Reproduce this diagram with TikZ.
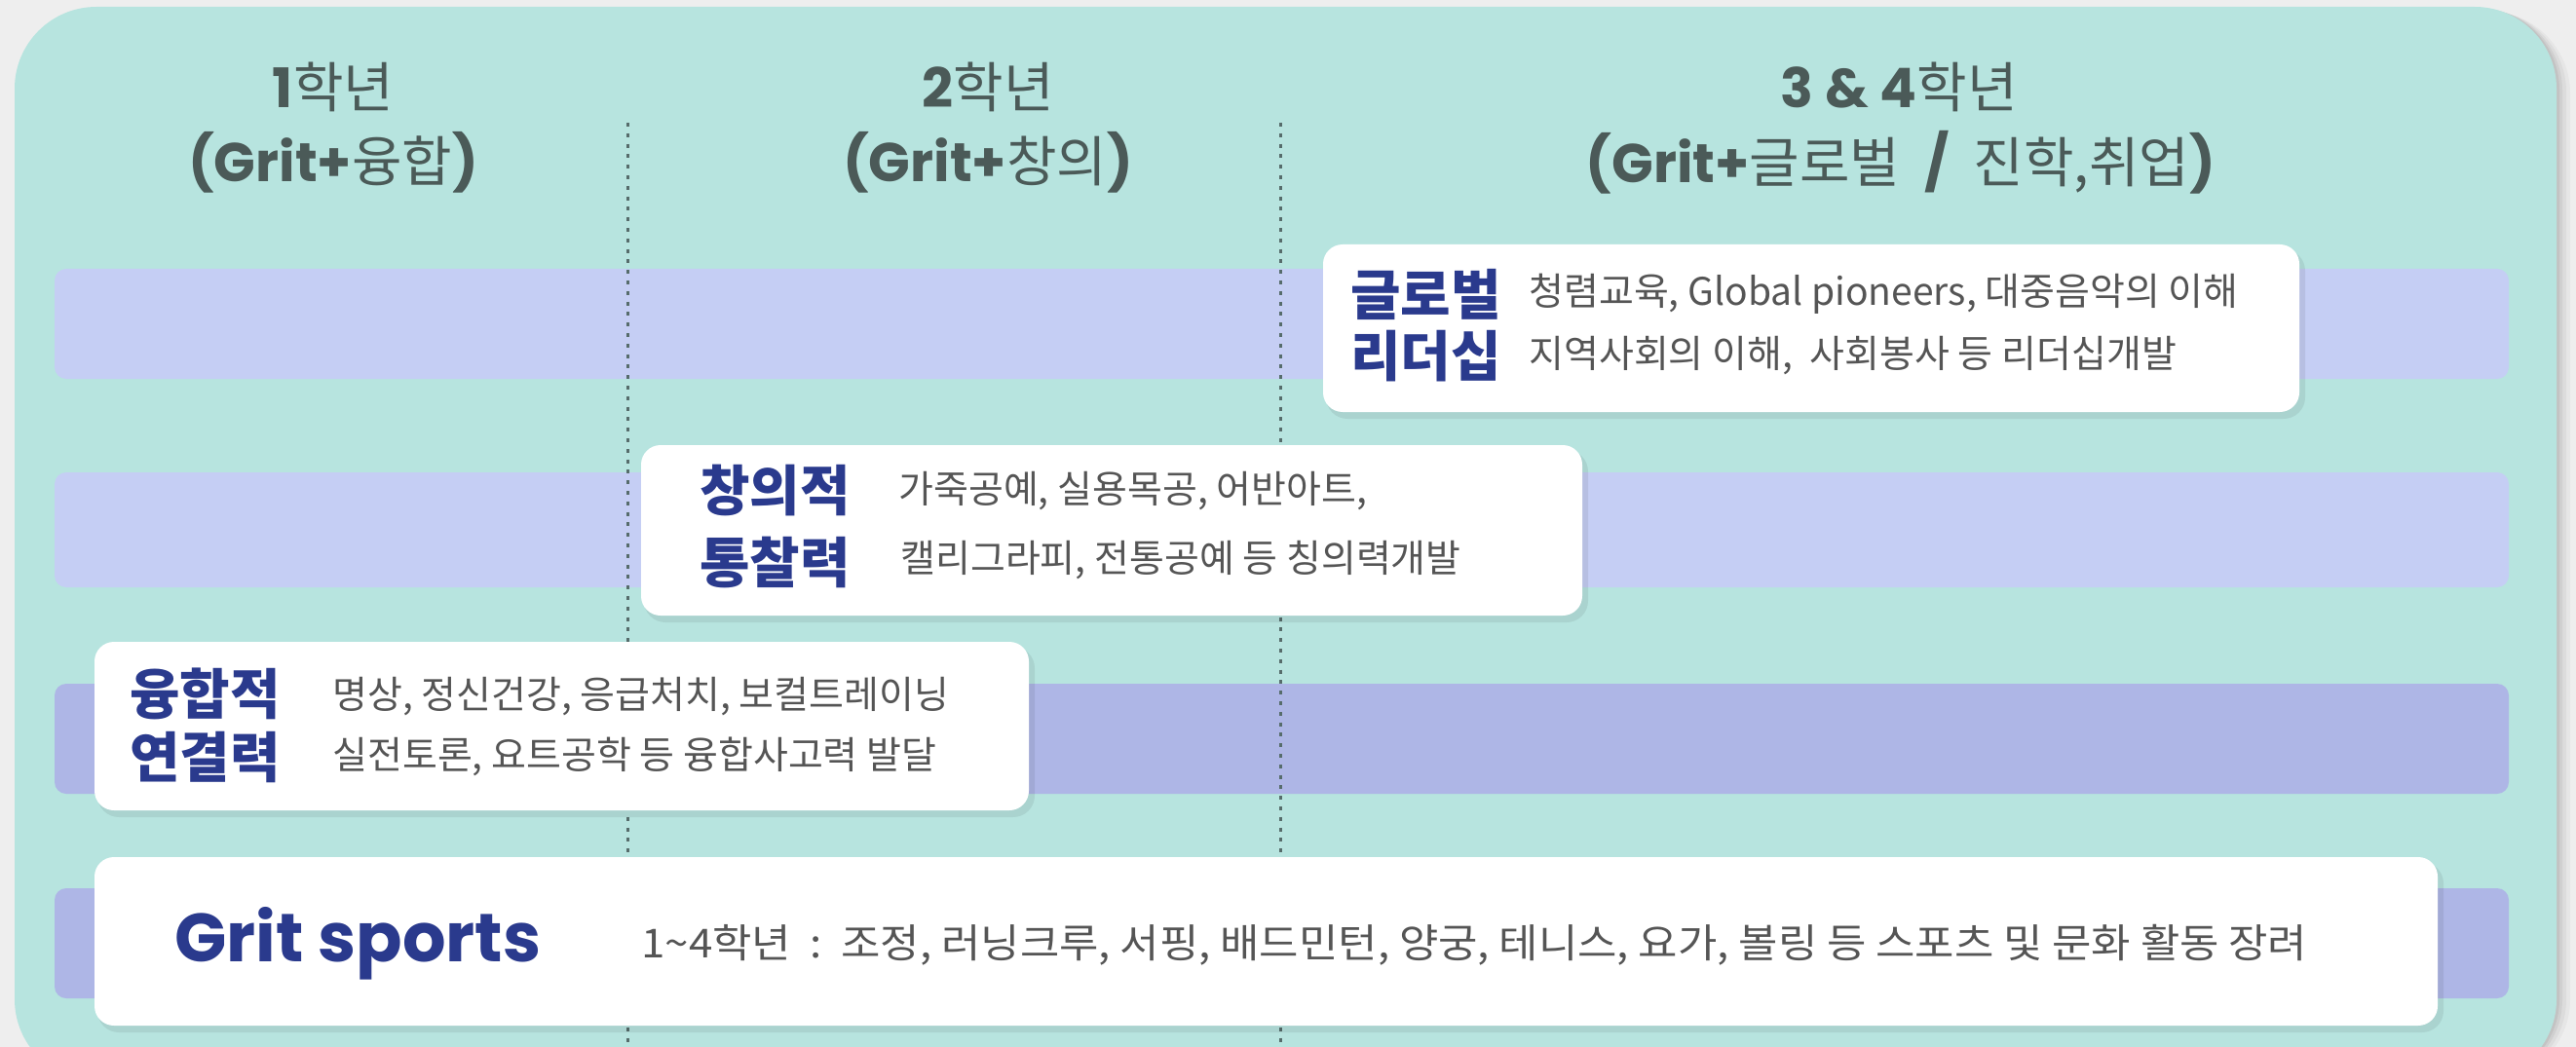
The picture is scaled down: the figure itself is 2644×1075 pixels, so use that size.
\documentclass[tikz,border=0pt]{standalone}
\usepackage{fontspec}
\newfontfamily\kr{Noto Sans CJK KR}
\newfontfamily\krwide{Noto Sans CJK KR}[FakeStretch=1.07]
\newfontfamily\pop{Poppins}
\definecolor{bg}{HTML}{EEEEEE}
\definecolor{panel}{HTML}{B7E4DF}
\definecolor{bandA}{HTML}{C5CEF4}
\definecolor{bandB}{HTML}{AEB6E6}
\definecolor{navy}{HTML}{2A3A8D}
\definecolor{head}{HTML}{4B5A58}
\definecolor{desc}{HTML}{555555}
\definecolor{divider}{HTML}{566C6B}
\tikzset{
  band/.style={rounded corners=6pt},
  card/.style={fill=white, rounded corners=10pt},
  cardshadow/.style={fill=black, fill opacity=0.07, rounded corners=11pt},
  titletxt/.style={text=navy, font=\kr\bfseries\fontsize{28}{33}\selectfont, anchor=west, inner sep=0},
  desctxt/.style={text=desc, font=\kr\fontsize{19.5}{23}\selectfont, anchor=west, inner sep=0},
  divline/.style={draw=divider, line width=1.5pt, dash pattern=on 2pt off 3.4pt},
  headtxt/.style={inner sep=0, text=head},
}
\newcommand{\hb}[1]{{\pop\bfseries\fontsize{28}{34}\selectfont #1}}
\newcommand{\hk}[1]{{\kr\fontsize{28}{34}\selectfont #1}}
\begin{document}
\begin{tikzpicture}[x=0.5pt,y=-0.5pt]
\useasboundingbox (0,0) rectangle (2644,1075);
\clip (0,0) rectangle (2644,1075);
\fill[bg] (0,0) rectangle (2644,1075);
% panel shadow
\foreach \o/\a in {14/0.03,10/0.04,6/0.05,3/0.06}{
  \fill[black, fill opacity=\a, rounded corners=42pt] (15+\o,7+\o/3) rectangle (2624+\o,1110);
}
\fill[panel, rounded corners=42pt] (15,7) rectangle (2624,1110);
% bands
\fill[bandA, band] (56,276) rectangle (2575,389);
\fill[bandA, band] (56,485) rectangle (2575,603);
\fill[bandB, band] (56,702) rectangle (2575,815);
\fill[bandB, band] (56,912) rectangle (2575,1025);
% dividers
\coordinate (d1t) at (644,126);
\coordinate (d1b) at (644,1075);
\coordinate (d2t) at (1314,126);
\coordinate (d2b) at (1314,1075);
\draw[divline] (d1t) -- (d1b);
\draw[divline] (d2t) -- (d2b);
% headers
\node[headtxt] (h1a) at (342,89) {\hb{1}\hk{학년}};
\node[headtxt] (h1b) at (342,167) {\hb{(Grit+}\hk{융합}\hb{)}};
\node[headtxt] (h2a) at (1014,89) {\hb{2}\hk{학년}};
\node[headtxt] (h2b) at (1014,167) {\hb{(Grit+}\hk{창의}\hb{)}};
\node[headtxt] (h3a) at (1949,89) {\hb{3 \& 4}\hk{학년}};
\node[headtxt] (h3b) at (1951,167) {\hb{(Grit+}\hk{글로벌\ \ }\hb{/}\hk{\ \ 진학,취업}\hb{)}};
% card shadows
\fill[cardshadow] (1361,256) rectangle (2366,430);
\fill[cardshadow] (661,462) rectangle (1630,639);
\fill[cardshadow] (100,664) rectangle (1062,839);
\fill[cardshadow] (100,885) rectangle (2508,1060);
% cards
\fill[card] (1358,251) rectangle (2360,423);
\fill[card] (658,457) rectangle (1624,632);
\fill[card] (97,659) rectangle (1056,832);
\fill[card] (97,880) rectangle (2502,1053);
% card A
\node[titletxt] (tA1) at (1386,302) {글로벌};
\node[titletxt] (tA2) at (1386,366) {리더십};
\node[desctxt] (dA1) at (1569,302) {청렴교육, Global pioneers, 대중음악의 이해};
\node[desctxt] (dA2) at (1569,365) {지역사회의 이해,\ \ 사회봉사 등 리더십개발};
% card B
\node[titletxt] (tB1) at (718,504) {창의적};
\node[titletxt] (tB2) at (718,577) {통찰력};
\node[desctxt] (dB1) at (922,504) {가죽공예, 실용목공, 어반아트,};
\node[desctxt] (dB2) at (924,575) {캘리그라피, 전통공예 등 칭의력개발};
% card C
\node[titletxt] (tC1) at (133,712) {융합적};
\node[titletxt] (tC2) at (133,778) {연결력};
\node[desctxt] (dC1) at (341,715) {명상, 정신건강, 응급처치, 보컬트레이닝};
\node[desctxt] (dC2) at (341,777) {실전토론, 요트공학 등 융합사고력 발달};
% card D
\node[anchor=base west, inner sep=0, text=navy, font=\pop\bfseries\fontsize{35}{40}\selectfont] (gs) at (179,987) {Grit sports};
\node[desctxt, font=\krwide\fontsize{20.5}{24}\selectfont] (dD) at (658,970) {1\textasciitilde4학년\ \ :\ \ 조정, 러닝크루, 서핑, 배드민턴, 양궁, 테니스, 요가, 볼링 등 스포츠 및 문화 활동 장려};
\end{tikzpicture}
\end{document}
